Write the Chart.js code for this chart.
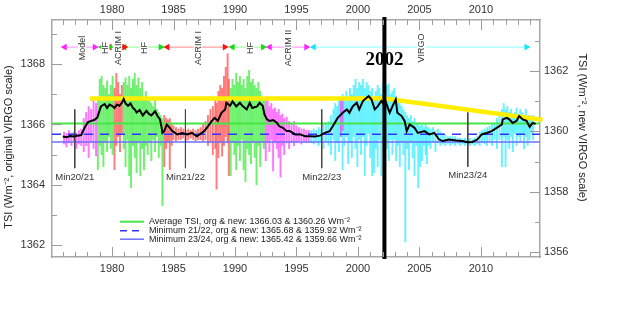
<!DOCTYPE html>
<html><head><meta charset="utf-8">
<script src="https://cdn.jsdelivr.net/npm/chart.js@4"></script>
<style>html,body{margin:0;padding:0;background:#fff}canvas{display:block}</style>
</head><body>
<canvas id="c" width="632" height="334"></canvas>
<script>
// ---------- DATA ----------
const yearTicks = [1980, 1985, 1990, 1995, 2000, 2005, 2010];
const leftTicks = [1362, 1364, 1366, 1368];
const rightTicks = [1356, 1358, 1360, 1362];
const scaleOffset = 5.77; // original minus new VIRGO scale

const avgTSI = 1366.03;
const min2122TSI = 1365.68;
const min2324TSI = 1365.42;
const legendTexts = [
  'Average TSI, org & new: 1366.03 & 1360.26 Wm\u207B\u00B2',
  'Minimum 21/22, org & new: 1365.68 & 1359.92 Wm\u207B\u00B2',
  'Minimum 23/24, org & new: 1365.42 & 1359.66 Wm\u207B\u00B2'
];

const smoothYears = [1976.0,1976.3,1976.6,1976.9,1977.2,1977.5,1977.8,1978.05,1978.3,1978.55,1978.8,1979.1,1979.4,1979.6,1979.8,1980.0,1980.2,1980.4,1980.6,1980.8,1980.95,1981.1,1981.3,1981.5,1981.7,1981.85,1982.0,1982.25,1982.5,1982.8,1983.0,1983.2,1983.5,1983.7,1983.9,1984.04,1984.1,1984.25,1984.45,1984.7,1984.9,1985.3,1985.7,1986.1,1986.5,1986.9,1987.3,1987.5,1987.8,1988.1,1988.35,1988.6,1988.9,1989.2,1989.3,1989.6,1989.8,1990.1,1990.4,1990.6,1990.95,1991.2,1991.4,1991.8,1992.0,1992.25,1992.4,1992.6,1992.8,1993.1,1993.4,1993.6,1993.9,1994.2,1994.45,1994.9,1995.3,1995.7,1996.1,1996.5,1996.9,1997.3,1997.7,1997.95,1998.35,1998.76,1999.1,1999.3,1999.57,1999.9,2000.1,2000.4,2000.7,2000.87,2001.1,2001.36,2001.6,2001.9,2002.0,2002.17,2002.3,2002.58,2002.8,2003.07,2003.2,2003.55,2003.8,2003.96,2004.2,2004.6,2004.86,2005.4,2005.8,2006.2,2006.6,2006.9,2007.4,2008.0,2008.5,2008.9,2009.3,2009.7,2010.06,2010.47,2010.87,2011.28,2011.7,2011.77,2012.1,2012.3,2012.58,2012.9,2013.1,2013.4,2013.7,2013.96,2014.2,2014.45];
const smoothTSI = [1365.6,1365.58,1365.62,1365.6,1365.63,1365.65,1365.92,1366.08,1366.12,1366.15,1366.23,1366.6,1366.68,1366.55,1366.66,1366.62,1366.55,1366.66,1366.62,1366.72,1366.85,1366.7,1366.62,1366.7,1366.55,1366.5,1366.4,1366.48,1366.3,1366.45,1366.35,1366.3,1366.44,1366.28,1366.17,1365.89,1365.72,1365.78,1366.0,1365.89,1365.78,1365.67,1365.72,1365.67,1365.72,1365.61,1365.72,1365.78,1365.94,1366.11,1366.22,1366.12,1366.39,1366.5,1366.72,1366.62,1366.77,1366.6,1366.72,1366.62,1366.5,1366.72,1366.55,1366.6,1366.72,1366.62,1366.33,1366.17,1366.12,1366.15,1366.06,1365.94,1365.89,1365.78,1365.78,1365.67,1365.67,1365.61,1365.61,1365.6,1365.63,1365.72,1365.78,1365.94,1366.22,1366.39,1366.5,1366.39,1366.6,1366.72,1366.5,1366.78,1366.89,1366.94,1366.83,1366.5,1366.6,1366.78,1366.72,1366.85,1366.7,1366.39,1366.6,1366.83,1366.39,1366.28,1366.11,1365.78,1366.0,1365.89,1365.72,1365.78,1365.67,1365.72,1365.5,1365.45,1365.5,1365.47,1365.45,1365.41,1365.42,1365.5,1365.67,1365.72,1365.78,1365.89,1366.0,1366.17,1366.22,1366.17,1366.05,1366.12,1366.28,1366.17,1366.12,1365.92,1366.05,1366.02];

// daily-data spikes: [year, low, high]
const modelSpikes = [[1976.1,1365.35,1365.75],[1976.3,1365.25,1365.7],[1976.5,1365.4,1365.8],[1976.7,1365.3,1365.72],[1976.9,1365.45,1365.75],[1977.1,1365.2,1365.7],[1977.3,1365.35,1365.8],[1977.5,1365.3,1365.85],[1977.7,1365.1,1366.2],[1977.9,1365.3,1366.4],[1978.1,1364.9,1366.6],[1978.3,1365.4,1366.5],[1978.5,1365.2,1366.85],[1978.7,1364.95,1366.7]];
const hfSpikes = [[1978.85,1364.5,1366.9],[1979.0,1365.3,1367.5],[1979.15,1365.0,1367.6],[1979.3,1364.6,1367.3],[1979.45,1365.4,1367.2],[1979.6,1365.1,1367.45],[1979.75,1365.6,1367.0],[1979.9,1365.2,1367.3],[1980.05,1365.0,1367.6],
  [1980.95,1365.2,1367.4],[1981.1,1364.6,1367.55],[1981.25,1365.5,1367.3],[1981.4,1364.3,1367.6],[1981.55,1363.9,1367.2],[1981.7,1365.3,1367.5],[1981.85,1364.9,1367.7],[1982.0,1364.4,1367.3],[1982.15,1365.4,1367.55],[1982.3,1364.3,1367.2],[1982.45,1365.2,1367.4],[1982.6,1364.5,1366.9],[1982.75,1365.3,1367.1],[1982.9,1365.0,1366.8],[1983.05,1365.4,1366.9],[1983.2,1364.8,1366.7],[1983.35,1365.5,1366.6],[1983.5,1365.1,1366.8],[1983.65,1365.6,1366.5],[1983.8,1364.9,1366.4],[1983.95,1365.3,1366.3],[1984.1,1363.3,1366.2],
  [1989.65,1364.3,1367.2],[1989.8,1365.4,1367.5],[1989.95,1365.0,1367.3],[1990.1,1364.5,1367.7],[1990.25,1365.3,1367.4],[1990.4,1364.8,1367.6],[1990.55,1365.5,1367.3],[1990.7,1364.5,1367.5],[1990.85,1364.1,1367.2],[1991.0,1365.2,1367.6],[1991.15,1365.0,1367.8],[1991.3,1364.7,1367.4],[1991.45,1365.4,1367.5],[1991.6,1364.9,1367.3],[1991.75,1364.0,1367.2],[1991.9,1365.3,1367.4],[1992.05,1364.6,1367.1],[1992.2,1365.4,1366.9],[1992.35,1365.2,1366.8]];
const acrim1Spikes = [[1980.2,1364.5,1367.2],[1980.35,1365.3,1367.7],[1980.5,1365.6,1367.4],[1980.65,1365.1,1367.0],[1980.8,1365.7,1367.3],
  [1984.25,1364.6,1366.3],[1984.4,1365.2,1366.2],[1984.55,1365.4,1366.15],[1984.7,1364.5,1366.2],[1984.85,1365.3,1366.0],[1985.0,1365.5,1365.95],[1985.2,1365.45,1365.9],[1985.4,1365.5,1365.85],[1985.6,1365.5,1365.9],[1985.8,1365.55,1365.85],[1986.0,1365.45,1365.8],[1986.2,1365.5,1365.85],[1986.4,1365.55,1365.8],[1986.6,1365.5,1365.85],[1986.8,1365.45,1365.8],[1987.0,1365.5,1365.85],[1987.2,1365.5,1365.9],[1987.4,1365.45,1366.0],[1987.6,1365.5,1366.1],[1987.8,1365.3,1366.3],[1988.0,1365.4,1366.5],[1988.2,1365.0,1366.6],[1988.4,1365.2,1366.9],[1988.5,1363.85,1366.7],[1988.65,1364.9,1367.1],[1988.8,1365.4,1367.3],[1988.95,1364.95,1367.2],[1989.1,1365.3,1367.6],[1989.25,1365.6,1367.9],[1989.4,1365.4,1368.35],[1989.5,1364.3,1367.5]];
const acrim2Spikes = [[1992.5,1364.8,1366.8],[1992.65,1365.4,1366.85],[1992.8,1365.1,1366.6],[1992.95,1365.5,1366.7],[1993.1,1364.45,1366.5],[1993.25,1365.4,1366.55],[1993.4,1365.2,1366.4],[1993.55,1364.9,1366.5],[1993.7,1364.25,1366.3],[1993.85,1365.3,1366.35],[1994.0,1365.0,1366.2],[1994.2,1365.4,1366.25],[1994.4,1365.2,1366.1],[1994.6,1365.4,1366.05],[1994.8,1365.3,1366.1],[1995.0,1365.4,1365.95],[1995.2,1365.45,1365.9],[1995.4,1365.35,1365.85],[1995.6,1365.45,1365.85],[1995.8,1365.4,1365.8],[1996.0,1365.45,1365.8],[1998.6,1365.6,1366.8],[1998.75,1365.8,1366.9]];
const virgoSpikes = [[1996.2,1365.4,1365.8],[1996.4,1365.35,1365.85],[1996.6,1365.45,1365.8],[1996.8,1365.3,1365.9],[1997.0,1365.4,1365.85],[1997.2,1365.2,1366.0],[1997.4,1365.45,1366.05],[1997.6,1365.3,1366.1],[1997.8,1365.0,1366.3],[1998.0,1365.5,1366.5],[1998.15,1364.8,1366.7],[1998.3,1365.4,1366.6],[1998.45,1365.1,1366.9],[1998.6,1365.6,1366.8],[1998.75,1364.5,1367.0],[1998.9,1365.3,1366.9],[1999.05,1365.6,1367.1],[1999.2,1364.7,1366.8],[1999.35,1365.4,1367.2],[1999.5,1364.9,1367.0],[1999.65,1365.6,1367.3],[1999.8,1365.2,1367.5],[1999.95,1364.6,1367.2],[2000.1,1365.5,1367.4],[2000.25,1365.0,1367.3],[2000.4,1365.6,1367.5],[2000.55,1364.3,1367.2],[2000.7,1365.3,1367.4],[2000.85,1365.7,1367.3],[2001.0,1364.9,1367.1],[2001.15,1364.3,1367.2],[2001.3,1364.4,1366.9],[2001.45,1365.2,1367.1],[2001.6,1364.6,1367.3],[2001.75,1365.5,1367.2],[2001.9,1364.3,1367.0],[2002.05,1365.4,1367.4],[2002.2,1365.6,1367.2],[2002.35,1365.2,1367.3],[2002.5,1364.8,1367.35],[2002.65,1365.5,1367.0],[2002.8,1365.0,1367.1],[2002.95,1365.5,1367.2],[2003.1,1364.8,1366.9],[2003.25,1365.3,1366.8],[2003.4,1364.6,1366.7],[2003.55,1365.4,1366.6],[2003.7,1365.0,1366.5],[2003.85,1362.1,1366.4],[2004.0,1365.2,1366.3],[2004.15,1364.5,1366.2],[2004.3,1365.4,1366.3],[2004.45,1364.9,1366.1],[2004.6,1364.3,1366.2],[2004.75,1365.3,1366.0],[2004.9,1363.9,1366.05],[2005.05,1364.6,1365.95],[2005.2,1364.8,1366.0],[2005.35,1365.3,1365.9],[2005.5,1365.0,1366.0],[2005.6,1364.7,1365.9],[2005.75,1365.3,1365.9],[2005.9,1365.2,1365.85],[2006.1,1365.4,1365.9],[2006.3,1365.1,1365.8],[2006.5,1365.4,1365.85],[2006.7,1365.3,1365.75],[2006.9,1365.35,1365.7],[2007.1,1365.3,1365.65],[2007.3,1365.35,1365.6],[2007.5,1365.3,1365.6],[2007.7,1365.35,1365.6],[2007.9,1365.3,1365.6],[2008.1,1365.35,1365.55],[2008.3,1365.3,1365.55],[2008.5,1365.35,1365.5],[2008.7,1365.3,1365.55],[2008.9,1365.35,1365.5],[2009.1,1365.3,1365.55],[2009.3,1365.35,1365.5],[2009.5,1365.3,1365.55],[2009.7,1365.35,1365.6],[2009.9,1365.3,1365.75],[2010.1,1365.4,1365.8],[2010.3,1365.35,1365.85],[2010.5,1365.3,1365.9],[2010.7,1365.45,1365.95],[2010.9,1365.3,1366.0],[2011.1,1365.5,1366.05],[2011.3,1365.2,1366.2],[2011.5,1365.5,1366.3],[2011.7,1364.6,1366.5],[2011.85,1365.6,1366.7],[2012.0,1364.6,1366.5],[2012.15,1365.5,1366.6],[2012.3,1365.2,1366.4],[2012.45,1365.6,1366.5],[2012.6,1365.1,1366.3],[2012.75,1365.7,1366.4],[2012.9,1365.3,1366.55],[2013.05,1365.6,1366.3],[2013.2,1365.4,1366.5],[2013.35,1365.7,1366.4],[2013.5,1365.2,1366.3],[2013.65,1365.6,1366.5],[2013.8,1365.3,1366.2],[2013.95,1365.5,1366.3],[2014.1,1365.7,1366.2],[2014.25,1365.5,1366.3]];

const trendYears = [1978.2, 2002.2, 2015.0];
const trendTSI = [1366.86, 1366.86, 1366.16];

const markYear = 2002.15;
const markLabel = '2002';

const minimaYears = [1976.97, 1985.97, 1997.05, 2008.93];
const minimaTop = [1366.5, 1366.5, 1366.5, 1366.4];
const minimaBottom = [1364.55, 1364.55, 1364.55, 1364.6];
const minimaLabels = ['Min20/21', 'Min21/22', 'Min22/23', 'Min23/24'];

const instrumentNames = ['Model', 'HF', 'ACRIM I', 'HF', 'ACRIM I', 'HF', 'ACRIM II', 'VIRGO'];
const instrumentStart = [1976.15, 1979.17, 1979.8, 1981.0, 1984.5, 1989.8, 1992.82, 1996.4];
const instrumentEnd = [1978.6, 1979.8, 1981.0, 1983.96, 1989.17, 1992.28, 1995.8, 2013.7];
const instrumentLabelYear = [1977.55, 1979.45, 1980.47, 1982.58, 1986.97, 1991.24, 1994.33, 2005.16];
const instrumentKind = ['model', 'hf', 'acrim1', 'hf', 'acrim1', 'hf', 'acrim2', 'virgo'];

// ---------- STYLE ----------
const X_MIN = 1975.12, X_MAX = 2014.8;
const Y_MIN = 1361.6, Y_MAX = 1369.47;
const FONT = '"Liberation Sans", Arial, sans-serif';
const kindColor = {model:'#ff22ff', hf:'#11dd11', acrim1:'#ff1111', acrim2:'#ff22ff', virgo:'#11e8ff'};
const kindLight = {model:'#ffa0ff', hf:'#a0ffa0', acrim1:'#ffa0a0', acrim2:'#ffa0ff', virgo:'#a0ffff'};
const ARROW_Y = 1368.57;

function spikeDS(arr, color) {
  return {type:'bar', data: arr.map(s => ({x:s[0], y:[s[1], s[2]]})), backgroundColor: color,
    borderWidth:0, barThickness:1.3, grouped:false, order:20, xAxisID:'x', yAxisID:'y'};
}
function lineDS(xs, ys, opts) {
  return Object.assign({type:'line', data: xs.map((x,i)=>({x:x, y:ys[i]})), pointRadius:0,
    borderWidth:1, tension:0, fill:false, xAxisID:'x', yAxisID:'y'}, opts);
}

const datasets = [
  spikeDS(modelSpikes, 'rgba(255,60,255,0.7)'),
  spikeDS(acrim2Spikes, 'rgba(255,60,255,0.7)'),
  spikeDS(hfSpikes, 'rgba(50,235,50,0.7)'),
  spikeDS(acrim1Spikes, 'rgba(255,70,70,0.7)'),
  spikeDS(virgoSpikes, 'rgba(40,235,255,0.7)'),
  lineDS([X_MIN, X_MAX], [avgTSI, avgTSI], {borderColor:'rgb(70,230,70)', borderWidth:2, order:15}),
  lineDS([X_MIN, X_MAX], [min2122TSI, min2122TSI], {borderColor:'rgb(50,50,255)', borderWidth:1.5, borderDash:[9,7], order:15}),
  lineDS([X_MIN, X_MAX], [min2324TSI, min2324TSI], {borderColor:'rgb(110,110,255)', borderWidth:1.5, order:15}),
  lineDS(trendYears, trendTSI, {borderColor:'#ffee00', borderWidth:4.5, order:12, clip:false}),
  lineDS(smoothYears, smoothTSI, {borderColor:'#000', borderWidth:2, order:5}),
  lineDS([markYear, markYear], [1361.53, 1369.57], {borderColor:'#000', borderWidth:4, order:2, clip:false})
];
minimaYears.forEach((yr, i) => {
  datasets.push(lineDS([yr, yr], [minimaTop[i], minimaBottom[i]], {borderColor:'#444', borderWidth:1, order:6}));
});
instrumentNames.forEach((n, i) => {
  const k = instrumentKind[i];
  datasets.push(lineDS([instrumentStart[i], instrumentEnd[i]], [ARROW_Y, ARROW_Y], {
    borderColor: kindLight[k], borderWidth:1.2, pointRadius:4, pointStyle:'triangle',
    pointRotation:[-90, 90], pointBackgroundColor: kindColor[k], pointBorderWidth:0, order:3, clip:false}));
});

const decorPlugin = {
  id:'decor',
  afterDraw(chart) {
    const {ctx, chartArea:a, scales} = chart;
    const xs = scales.x, ys = scales.y, ys2 = scales.y2;
    ctx.save();
    // inner ticks
    ctx.strokeStyle = '#9c9c9c'; ctx.lineWidth = 1;
    const seg = (x1,y1,x2,y2) => { ctx.beginPath(); ctx.moveTo(x1,y1); ctx.lineTo(x2,y2); ctx.stroke(); };
    for (let yr = 1976; yr <= 2014; yr++) {
      const px = Math.round(xs.getPixelForValue(yr)) + 0.5;
      const L = yr % 5 === 0 ? 10 : 5;
      seg(px, a.bottom, px, a.bottom - L);
      seg(px, a.top, px, a.top + L);
    }
    for (let v = 1362; v <= 1369; v++) {
      const py = Math.round(ys.getPixelForValue(v)) + 0.5;
      seg(a.left, py, a.left + (v % 2 === 0 ? 10 : 5), py);
    }
    for (let v = 1356; v <= 1363; v++) {
      const py = Math.round(ys2.getPixelForValue(v)) + 0.5;
      seg(a.right, py, a.right - (v % 2 === 0 ? 10 : 5), py);
    }
    // instrument labels
    ctx.font = '9px ' + FONT; ctx.textAlign = 'center'; ctx.textBaseline = 'middle';
    instrumentNames.forEach((n, i) => {
      const px = xs.getPixelForValue(instrumentLabelYear[i]);
      const py = ys.getPixelForValue(ARROW_Y) + 1;
      const w = ctx.measureText(n).width;
      ctx.save(); ctx.translate(px, py); ctx.rotate(-Math.PI/2);
      ctx.fillStyle = '#fff'; ctx.fillRect(-w/2 - 2, -4, w + 4, 8);
      ctx.fillStyle = '#333'; ctx.fillText(n, 0, 0.5);
      ctx.restore();
    });
    // 2002 label
    ctx.font = 'bold 19px "Liberation Serif", "Times New Roman", serif';
    ctx.fillStyle = '#000';
    ctx.fillText(markLabel, xs.getPixelForValue(markYear), 60);
    // minima labels
    ctx.font = '9.5px ' + FONT; ctx.fillStyle = '#333';
    minimaYears.forEach((yr, i) => {
      ctx.fillText(minimaLabels[i], xs.getPixelForValue(yr), ys.getPixelForValue(minimaBottom[i]) + 9);
    });
    // legend
    const legY = [221.7, 230.7, 239.2];
    ctx.lineWidth = 2; ctx.strokeStyle = 'rgb(70,230,70)'; seg(120, legY[0], 144, legY[0]);
    ctx.lineWidth = 1.5; ctx.strokeStyle = 'rgb(50,50,255)'; ctx.setLineDash([7,5]); seg(120, legY[1], 144, legY[1]);
    ctx.setLineDash([]); ctx.strokeStyle = 'rgb(110,110,255)'; seg(120, legY[2], 144, legY[2]);
    ctx.font = '9px ' + FONT; ctx.textAlign = 'left'; ctx.fillStyle = '#222';
    legendTexts.forEach((t, i) => ctx.fillText(t, 149, legY[i]));
    // axis titles
    ctx.font = '11px ' + FONT; ctx.textAlign = 'center'; ctx.fillStyle = '#222';
    ctx.save(); ctx.translate(9, 147); ctx.rotate(-Math.PI/2);
    ctx.fillText('TSI (Wm\u207B\u00B2, original VIRGO scale)', 0, 0); ctx.restore();
    ctx.save(); ctx.translate(582, 127.5); ctx.rotate(Math.PI/2);
    ctx.fillText('TSI (Wm\u207B\u00B2, new VIRGO scale)', 0, 0); ctx.restore();
    ctx.restore();
  }
};

const fixed = (prop, val) => (s) => { s[prop] = val; };
const setTicks = (vals) => (s) => { s.ticks = vals.map(v => ({value:v})); };
const tickFont = {family: FONT, size: 11};
const border = {display:true, color:'#a8a8a8', width:1.5};
const noGrid = {display:false, drawTicks:false, tickLength:0, offset:false};

new Chart(document.getElementById('c'), {
  data: {datasets},
  options: {
    responsive:false, animation:false, events:[],
    layout:{padding:0},
    plugins:{legend:{display:false}, tooltip:{enabled:false}},
    scales: {
      x: {type:'linear', position:'bottom', min:X_MIN, max:X_MAX, offset:false,
        grid:noGrid, border,
        afterBuildTicks:setTicks(yearTicks), afterFit:fixed('height', 77),
        ticks:{font:tickFont, color:'#333', padding:5, maxRotation:0, callback:v=>String(v)}},
      x2: {type:'linear', position:'top', min:X_MIN, max:X_MAX, offset:false,
        grid:noGrid, border,
        afterBuildTicks:setTicks(yearTicks), afterFit:fixed('height', 20),
        ticks:{font:tickFont, color:'#333', padding:3, maxRotation:0, callback:v=>String(v)}},
      y: {type:'linear', position:'left', min:Y_MIN, max:Y_MAX,
        grid:noGrid, border,
        afterBuildTicks:setTicks(leftTicks), afterFit:fixed('width', 52),
        ticks:{font:tickFont, color:'#333', padding:7, callback:v=>String(v)}},
      y2: {type:'linear', position:'right', min:Y_MIN - scaleOffset, max:Y_MAX - scaleOffset,
        grid:noGrid, border,
        afterBuildTicks:setTicks(rightTicks), afterFit:fixed('width', 92),
        ticks:{font:tickFont, color:'#333', padding:4, callback:v=>String(v)}}
    }
  },
  plugins:[decorPlugin]
});
</script>
</body></html>
